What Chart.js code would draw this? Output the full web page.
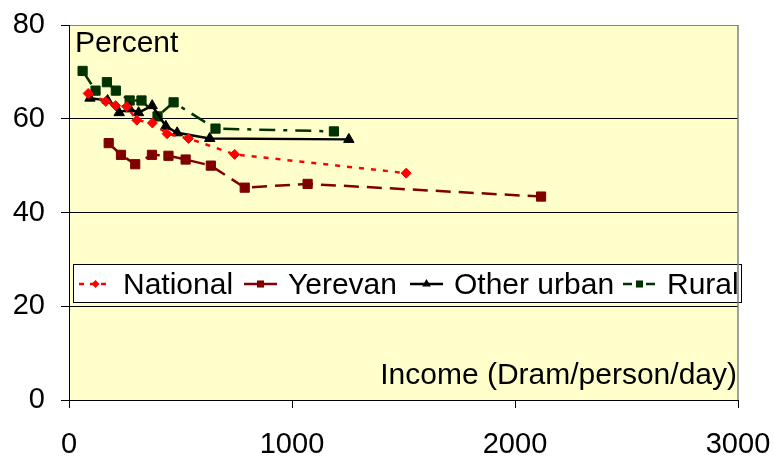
<!DOCTYPE html>
<html>
<head>
<meta charset="utf-8">
<script src="https://cdn.jsdelivr.net/npm/chart.js@4.4.1/dist/chart.umd.min.js"></script>
<style>
    body { margin: 0; background: #fff; }
    canvas { display: block; }
</style>
</head>
<body>
<canvas id="incomeChart" width="774" height="457"></canvas>
<script>
// values
const seriesNames = ["National", "Yerevan", "Other urban", "Rural"];

const nationalX = [86, 165, 209, 259, 304, 374, 440, 536, 743, 1512];
const nationalY = [65.4, 63.7, 62.8, 62.6, 59.7, 59.1, 56.8, 55.8, 52.4, 48.4];

const yerevanX = [178, 233, 297, 372, 446, 523, 636, 788, 1070, 2117];
const yerevanY = [54.8, 52.3, 50.3, 52.3, 52.1, 51.3, 50.0, 45.3, 46.1, 43.4];

const otherUrbanX = [94, 173, 225, 272, 312, 373, 434, 485, 631, 1255];
const otherUrbanY = [64.4, 63.9, 61.3, 62.1, 61.3, 62.8, 58.4, 57.0, 55.8, 55.6];

const ruralX = [61, 119, 170, 210, 272, 325, 397, 469, 657, 1188];
const ruralY = [70.2, 66.0, 67.8, 66.0, 63.9, 63.9, 60.5, 63.5, 57.9, 57.3];

const xTicks = [0, 1000, 2000, 3000];
const yTicks = [0, 20, 40, 60, 80];

const yTitle = "Percent";
const xTitle = "Income (Dram/person/day)";

const fontFamily = "'Liberation Sans', Arial, sans-serif";

function points(xs, ys) {
    return xs.map(function (x, i) { return { x: x, y: ys[i] }; });
}

function makeSeries(label, xs, ys, color, dash, style, radius) {
    return {
        label: label,
        data: points(xs, ys),
        borderColor: color,
        backgroundColor: color,
        borderWidth: 2.5,
        borderDash: dash,
        pointStyle: style,
        pointRadius: radius,
        pointBorderWidth: 1,
        pointBorderColor: color,
        pointBackgroundColor: color,
        tension: 0,
        fill: false
    };
}

const datasets = [
    makeSeries(seriesNames[0], nationalX, nationalY, "#ff0000", [5, 7], "rectRot", 5),
    makeSeries(seriesNames[1], yerevanX, yerevanY, "#800000", [15, 8], "rect", 6.5),
    makeSeries(seriesNames[2], otherUrbanX, otherUrbanY, "#000000", [], "triangle", 6),
    makeSeries(seriesNames[3], ruralX, ruralY, "#003300", [16, 8, 4, 8], "rect", 6.5)
];

function drawMarker(ctx, style, x, y, r, color) {
    ctx.save();
    ctx.fillStyle = color;
    ctx.beginPath();
    if (style === "rect") {
        var s = r * Math.SQRT1_2;
        ctx.rect(x - s, y - s, 2 * s, 2 * s);
    } else if (style === "rectRot") {
        ctx.moveTo(x, y - r);
        ctx.lineTo(x + r, y);
        ctx.lineTo(x, y + r);
        ctx.lineTo(x - r, y);
        ctx.closePath();
    } else {
        ctx.moveTo(x, y - r);
        ctx.lineTo(x + r * 0.866, y + r * 0.5);
        ctx.lineTo(x - r * 0.866, y + r * 0.5);
        ctx.closePath();
    }
    ctx.fill();
    ctx.restore();
}

const plotBackground = {
    id: "plotBackground",
    beforeDraw: function (chart) {
        var ctx = chart.ctx, a = chart.chartArea;
        ctx.save();
        ctx.fillStyle = "#ffffff";
        ctx.fillRect(0, 0, chart.width, chart.height);
        ctx.fillStyle = "#ffffcc";
        ctx.fillRect(a.left, a.top, a.right - a.left, a.bottom - a.top);
        ctx.restore();
    },
    afterDraw: function (chart) {
        var ctx = chart.ctx, a = chart.chartArea;
        ctx.save();
        ctx.strokeStyle = "#808080";
        ctx.lineWidth = 1.5;
        ctx.beginPath();
        ctx.moveTo(a.right, a.top);
        ctx.lineTo(a.right, a.bottom);
        ctx.stroke();

        ctx.fillStyle = "#000";
        ctx.font = "30px " + fontFamily;
        ctx.textBaseline = "alphabetic";
        ctx.textAlign = "left";
        ctx.fillText(yTitle, a.left + 6, a.top + 27);
        ctx.textAlign = "right";
        ctx.fillText(xTitle, a.right - 1, a.bottom - 16);
        ctx.restore();
    }
};

// legend sits inside the plot, so it is drawn by hand
const insideLegend = {
    id: "insideLegend",
    afterDatasetsDraw: function (chart) {
        var ctx = chart.ctx, a = chart.chartArea;
        var boxLeft = a.left + 4, boxTop = 264, boxRight = a.right + 3, boxBottom = 302;
        var itemStarts = [79, 244, 410, 623];
        var midY = 284;
        ctx.save();
        ctx.fillStyle = "#ffffff";
        ctx.fillRect(boxLeft, boxTop, boxRight - boxLeft, boxBottom - boxTop);
        ctx.strokeStyle = "#000";
        ctx.lineWidth = 1;
        ctx.strokeRect(boxLeft + 0.5, boxTop + 0.5, boxRight - boxLeft, boxBottom - boxTop);

        ctx.font = "30px " + fontFamily;
        ctx.textBaseline = "alphabetic";
        ctx.textAlign = "left";
        chart.data.datasets.forEach(function (ds, i) {
            var x0 = itemStarts[i];
            ctx.save();
            ctx.strokeStyle = ds.borderColor;
            ctx.lineWidth = 2.5;
            ctx.setLineDash(i === 0 ? [5, 6] : (i === 3 ? [9, 5, 4, 5] : []));
            ctx.beginPath();
            ctx.moveTo(x0, midY);
            ctx.lineTo(x0 + 33, midY);
            ctx.stroke();
            ctx.restore();
            drawMarker(ctx, ds.pointStyle, x0 + 16.5, midY, ds.pointStyle === "rectRot" ? 4 : 5, ds.borderColor);
            ctx.fillStyle = "#000";
            ctx.fillText(ds.label, x0 + 44, 294);
        });
        ctx.restore();
    }
};

const tickFont = { family: fontFamily, size: 29 };

new Chart(document.getElementById("incomeChart"), {
    type: "line",
    data: { datasets: datasets },
    plugins: [plotBackground, insideLegend],
    options: {
        responsive: false,
        animation: false,
        layout: { padding: { top: 25, right: 36, left: 0, bottom: 0 } },
        plugins: {
            legend: { display: false },
            tooltip: { enabled: false }
        },
        scales: {
            x: {
                type: "linear",
                min: 0,
                max: 3000,
                afterBuildTicks: function (scale) {
                    scale.ticks = xTicks.map(function (v) { return { value: v }; });
                },
                ticks: {
                    font: tickFont,
                    color: "#000",
                    padding: 20,
                    maxRotation: 0,
                    callback: function (v) { return String(v); }
                },
                grid: { drawOnChartArea: false, drawTicks: true, tickLength: 8, color: "#000" },
                border: { color: "#000", width: 1 },
                afterFit: function (scale) {
                    scale.height = 57;
                    scale.paddingLeft = 0;
                    scale.paddingRight = 0;
                }
            },
            y: {
                min: 0,
                max: 80,
                afterBuildTicks: function (scale) {
                    scale.ticks = yTicks.map(function (v) { return { value: v }; });
                },
                ticks: {
                    font: tickFont,
                    color: "#000",
                    padding: 16,
                    callback: function (v) { return String(v); }
                },
                grid: {
                    color: function (ctx) { return ctx.tick && ctx.tick.value === 80 ? "#808080" : "#000"; },
                    tickColor: "#000",
                    tickLength: 8,
                    lineWidth: 1
                },
                border: { color: "#000", width: 1 },
                afterFit: function (scale) {
                    scale.width = 69;
                    scale.paddingTop = 0;
                    scale.paddingBottom = 0;
                }
            }
        }
    }
});
</script>
</body>
</html>
